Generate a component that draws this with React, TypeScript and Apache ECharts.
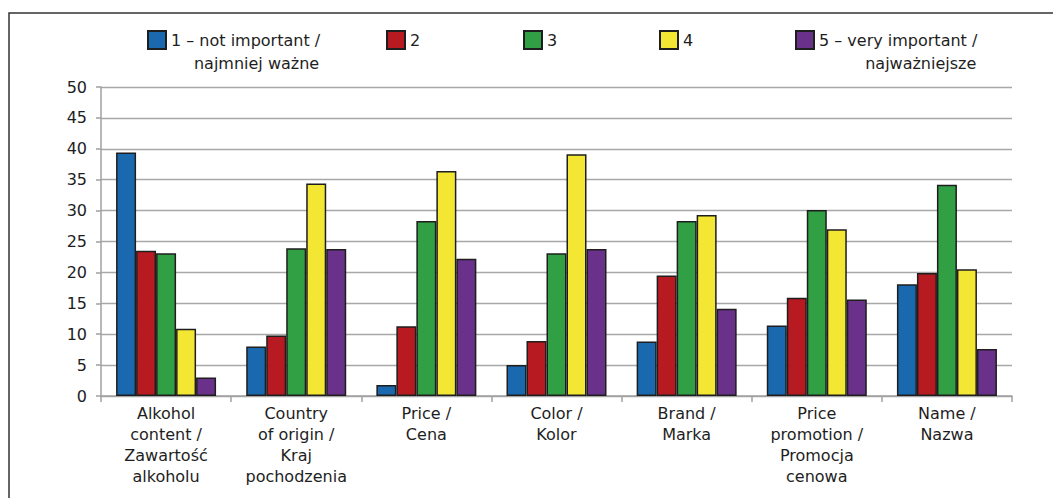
import React, { useEffect, useRef } from 'react';
import * as echarts from 'echarts';

// Categories (x axis), multi-line labels
const categories = [
  'Alkohol\ncontent /\nZawartość\nalkoholu',
  'Country\nof origin /\nKraj\npochodzenia',
  'Price /\nCena',
  'Color /\nKolor',
  'Brand /\nMarka',
  'Price\npromotion /\nPromocja\ncenowa',
  'Name /\nNazwa',
];

// Rating scale series
const seriesNames = [
  '1 – not important / najmniej ważne',
  '2',
  '3',
  '4',
  '5 – very important / najważniejsze',
];
const legendFirstLines = ['1 – not important /', '2', '3', '4', '5 – very important /'];
const legendSecondLines = ['najmniej ważne', '', '', '', 'najważniejsze'];

const rating1 = [39.4, 8.0, 1.8, 5.0, 8.8, 11.4, 18.1];
const rating2 = [23.5, 9.8, 11.3, 8.9, 19.5, 15.9, 19.9];
const rating3 = [23.1, 23.9, 28.3, 23.1, 28.3, 30.1, 34.2];
const rating4 = [10.9, 34.4, 36.4, 39.1, 29.3, 27.0, 20.5];
const rating5 = [3.0, 23.8, 22.2, 23.8, 14.1, 15.6, 7.6];
const seriesValues = [rating1, rating2, rating3, rating4, rating5];

// Y axis scale
const yMin = 0;
const yMax = 50;
const yStep = 5;

const COLORS = ['#1a69ae', '#b71a20', '#31a044', '#f3e733', '#6a318a'];
const FONT = '"DejaVu Sans", sans-serif';
const FONT_SIZE = 16;
const TEXT_COLOR = '#1e1e1e';
const LEGEND_X = [147, 386, 523, 659, 795];
const LEGEND_TOP = 30;
const ICON = 18;

function measure(text: string): number {
  const canvas = document.createElement('canvas');
  const ctx = canvas.getContext('2d');
  if (!ctx) return text.length * 9;
  ctx.font = `${FONT_SIZE}px "DejaVu Sans"`;
  return ctx.measureText(text).width;
}

export default function App() {
  const ref = useRef<HTMLDivElement>(null);

  useEffect(() => {
    document.body.style.margin = '0';
    if (!ref.current) return;
    const chart = echarts.init(ref.current, undefined, { renderer: 'svg' });

    // second legend lines, right-aligned under the first line
    const secondLineTexts = legendSecondLines
      .map((t, i) => {
        if (!t) return null;
        const right = LEGEND_X[i] + ICON + 5 + measure(legendFirstLines[i]);
        return {
          type: 'text',
          x: right,
          y: 63,
          style: {
            text: t,
            fontFamily: FONT,
            fontSize: FONT_SIZE,
            fill: TEXT_COLOR,
            textAlign: 'right',
            textVerticalAlign: 'middle',
          },
        };
      })
      .filter(Boolean);

    chart.setOption({
      animation: false,
      backgroundColor: '#fff',
      graphic: [
        {
          type: 'rect',
          z: -10,
          shape: { x: 9, y: 13, width: 1100, height: 600 },
          style: { fill: 'none', stroke: '#333', lineWidth: 1.5 },
        },
        ...secondLineTexts,
      ],
      legend: seriesNames.map((n, i) => ({
        data: [n],
        left: LEGEND_X[i],
        top: LEGEND_TOP,
        padding: 0,
        itemWidth: ICON,
        itemHeight: ICON,
        icon: 'rect',
        selectedMode: false,
        formatter: () => legendFirstLines[i],
        textStyle: { fontFamily: FONT, fontSize: FONT_SIZE, color: TEXT_COLOR },
      })),
      grid: { left: 101, right: 41, top: 87, bottom: 102 },
      xAxis: {
        type: 'category',
        data: categories,
        axisLine: { lineStyle: { color: '#a0a0a0', width: 1.5 } },
        axisTick: { show: true, length: 6, lineStyle: { color: '#a0a0a0', width: 1.5 } },
        axisLabel: {
          interval: 0,
          fontFamily: FONT,
          fontSize: FONT_SIZE,
          lineHeight: 21,
          color: TEXT_COLOR,
          margin: 7,
        },
      },
      yAxis: {
        type: 'value',
        min: yMin,
        max: yMax,
        interval: yStep,
        axisLine: { show: true, lineStyle: { color: '#a0a0a0', width: 1.5 } },
        axisTick: { show: true, length: 5, lineStyle: { color: '#a0a0a0', width: 1.5 } },
        axisLabel: { fontFamily: FONT, fontSize: FONT_SIZE, color: TEXT_COLOR, margin: 14 },
        splitLine: { lineStyle: { color: '#a8a8a8', width: 1.3 } },
      },
      series: seriesNames.map((n, i) => ({
        name: n,
        type: 'bar',
        data: seriesValues[i],
        barWidth: 20,
        barGap: '0%',
        itemStyle: { color: COLORS[i], borderColor: '#1e1e1e', borderWidth: 1.5 },
      })),
    });

    return () => chart.dispose();
  }, []);

  return <div ref={ref} style={{ width: 1053, height: 498 }} />;
}
